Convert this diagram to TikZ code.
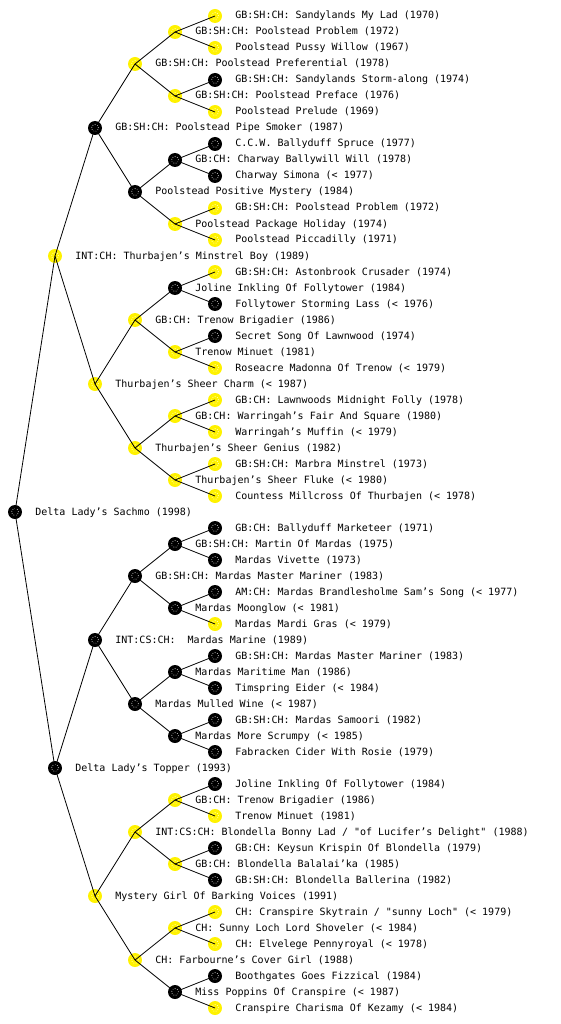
\documentclass[tikz,border=0pt]{standalone}
\usepackage{fontspec}
\setmainfont{DejaVu Sans Mono}
\frenchspacing
\usepackage{tikz}
\usetikzlibrary{positioning}
\tikzstyle{dog}=[circle, minimum size=14pt, inner sep=0pt, draw=none,
  path picture={\draw[white, line width=0.8pt, dash pattern=on 0.8pt off 1.6pt, opacity=0.7]
    (path picture bounding box.center) circle (3.5pt);}]
\tikzstyle{lbl}=[inner sep=0pt, text height=7.5pt, text depth=1.5pt]
\tikzstyle{link}=[line width=0.8pt]

\begin{document}
\begin{tikzpicture}[x=1pt, y=-1pt, font=\fontsize{10}{12}\selectfont]
\useasboundingbox (0,0) rectangle (560,1024);
% the dog
\node[dog, fill=black] (r) at (15,512) {};
\node[lbl, right=13pt of r] (r-t) {Delta Lady's Sachmo (1998)};
% parents
\foreach \nm/\y/\col/\lab in {rs/256/yellow/{INT:CH: Thurbajen's Minstrel Boy (1989)},
                              rd/768/black/{Delta Lady's Topper (1993)}} {
  \node[dog, fill=\col] (\nm) at (55,\y) {};
  \node[lbl, right=13pt of \nm] (\nm-t) {\lab};
}
% grandparents
\foreach \nm/\y/\col/\lab in {rss/128/black/{GB:SH:CH: Poolstead Pipe Smoker (1987)},
                              rsd/384/yellow/{Thurbajen's Sheer Charm (< 1987)},
                              rds/640/black/{INT:CS:CH:\ \ Mardas Marine (1989)},
                              rdd/896/yellow/{Mystery Girl Of Barking Voices (1991)}} {
  \node[dog, fill=\col] (\nm) at (95,\y) {};
  \node[lbl, right=13pt of \nm] (\nm-t) {\lab};
}
% 3rd generation
\foreach \nm/\y/\col/\lab in {rsss/64/yellow/{GB:SH:CH: Poolstead Preferential (1978)},
                              rssd/192/black/{Poolstead Positive Mystery (1984)},
                              rsds/320/yellow/{GB:CH: Trenow Brigadier (1986)},
                              rsdd/448/yellow/{Thurbajen's Sheer Genius (1982)},
                              rdss/576/black/{GB:SH:CH: Mardas Master Mariner (1983)},
                              rdsd/704/black/{Mardas Mulled Wine (< 1987)},
                              rdds/832/yellow/{INT:CS:CH: Blondella Bonny Lad / \textquotedbl of Lucifer's Delight\textquotedbl{} (1988)},
                              rddd/960/yellow/{CH: Farbourne's Cover Girl (1988)}} {
  \node[dog, fill=\col] (\nm) at (135,\y) {};
  \node[lbl, right=13pt of \nm] (\nm-t) {\lab};
}
% 4th generation
\foreach \nm/\y/\col/\lab in {rssss/32/yellow/{GB:SH:CH: Poolstead Problem (1972)},
                              rsssd/96/yellow/{GB:SH:CH: Poolstead Preface (1976)},
                              rssds/160/black/{GB:CH: Charway Ballywill Will (1978)},
                              rssdd/224/yellow/{Poolstead Package Holiday (1974)},
                              rsdss/288/black/{Joline Inkling Of Follytower (1984)},
                              rsdsd/352/yellow/{Trenow Minuet (1981)},
                              rsdds/416/yellow/{GB:CH: Warringah's Fair And Square (1980)},
                              rsddd/480/yellow/{Thurbajen's Sheer Fluke (< 1980)},
                              rdsss/544/black/{GB:SH:CH: Martin Of Mardas (1975)},
                              rdssd/608/black/{Mardas Moonglow (< 1981)},
                              rdsds/672/black/{Mardas Maritime Man (1986)},
                              rdsdd/736/black/{Mardas More Scrumpy (< 1985)},
                              rddss/800/yellow/{GB:CH: Trenow Brigadier (1986)},
                              rddsd/864/yellow/{GB:CH: Blondella Balalai'ka (1985)},
                              rddds/928/yellow/{CH: Sunny Loch Lord Shoveler (< 1984)},
                              rdddd/992/black/{Miss Poppins Of Cranspire (< 1987)}} {
  \node[dog, fill=\col] (\nm) at (175,\y) {};
  \node[lbl, right=13pt of \nm] (\nm-t) {\lab};
}
% 5th generation
\foreach \nm/\y/\col/\lab in {rsssss/16/yellow/{GB:SH:CH: Sandylands My Lad (1970)},
                              rssssd/48/yellow/{Poolstead Pussy Willow (1967)},
                              rsssds/80/black/{GB:SH:CH: Sandylands Storm-along (1974)},
                              rsssdd/112/yellow/{Poolstead Prelude (1969)},
                              rssdss/144/black/{C.C.W. Ballyduff Spruce (1977)},
                              rssdsd/176/black/{Charway Simona (< 1977)},
                              rssdds/208/yellow/{GB:SH:CH: Poolstead Problem (1972)},
                              rssddd/240/yellow/{Poolstead Piccadilly (1971)},
                              rsdsss/272/yellow/{GB:SH:CH: Astonbrook Crusader (1974)},
                              rsdssd/304/black/{Follytower Storming Lass (< 1976)},
                              rsdsds/336/black/{Secret Song Of Lawnwood (1974)},
                              rsdsdd/368/yellow/{Roseacre Madonna Of Trenow (< 1979)},
                              rsddss/400/yellow/{GB:CH: Lawnwoods Midnight Folly (1978)},
                              rsddsd/432/yellow/{Warringah's Muffin (< 1979)},
                              rsddds/464/yellow/{GB:SH:CH: Marbra Minstrel (1973)},
                              rsdddd/496/yellow/{Countess Millcross Of Thurbajen (< 1978)},
                              rdssss/528/black/{GB:CH: Ballyduff Marketeer (1971)},
                              rdsssd/560/black/{Mardas Vivette (1973)},
                              rdssds/592/black/{AM:CH: Mardas Brandlesholme Sam's Song (< 1977)},
                              rdssdd/624/yellow/{Mardas Mardi Gras (< 1979)},
                              rdsdss/656/black/{GB:SH:CH: Mardas Master Mariner (1983)},
                              rdsdsd/688/black/{Timspring Eider (< 1984)},
                              rdsdds/720/black/{GB:SH:CH: Mardas Samoori (1982)},
                              rdsddd/752/black/{Fabracken Cider With Rosie (1979)},
                              rddsss/784/black/{Joline Inkling Of Follytower (1984)},
                              rddssd/816/yellow/{Trenow Minuet (1981)},
                              rddsds/848/black/{GB:CH: Keysun Krispin Of Blondella (1979)},
                              rddsdd/880/black/{GB:SH:CH: Blondella Ballerina (1982)},
                              rdddss/912/yellow/{CH: Cranspire Skytrain / \textquotedbl sunny Loch\textquotedbl{} (< 1979)},
                              rdddsd/944/yellow/{CH: Elvelege Pennyroyal (< 1978)},
                              rdddds/976/black/{Boothgates Goes Fizzical (1984)},
                              rddddd/1008/yellow/{Cranspire Charisma Of Kezamy (< 1984)}} {
  \node[dog, fill=\col] (\nm) at (215,\y) {};
  \node[lbl, right=13pt of \nm] (\nm-t) {\lab};
}
% sire (s) and dam (d) links
\foreach \p in {r, rs, rd, rss, rsd, rds, rdd,
                rsss, rssd, rsds, rsdd, rdss, rdsd, rdds, rddd,
                rssss, rsssd, rssds, rssdd, rsdss, rsdsd, rsdds, rsddd,
                rdsss, rdssd, rdsds, rdsdd, rddss, rddsd, rddds, rdddd} {
  \draw[link] (\p.center) -- (\p s.center);
  \draw[link] (\p.center) -- (\p d.center);
}
\end{tikzpicture}
\end{document}
